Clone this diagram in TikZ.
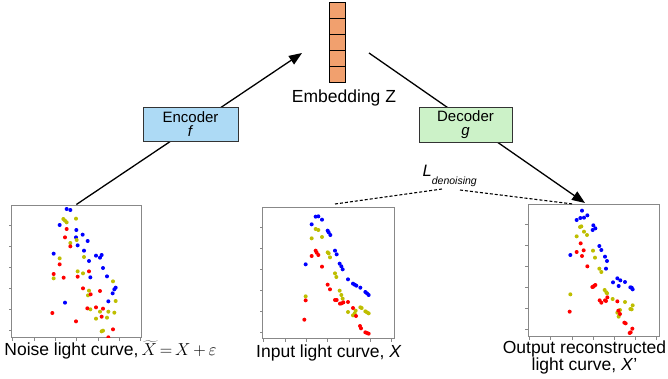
\documentclass[tikz,border=0pt]{standalone}
\usepackage{fontspec}
\setmainfont{Liberation Sans}
\usetikzlibrary{arrows.meta,calc}
\definecolor{embfill}{RGB}{241,160,110}
\definecolor{encfill}{RGB}{173,218,245}
\definecolor{decfill}{RGB}{204,242,200}
\definecolor{dblue}{RGB}{0,0,255}
\definecolor{dyellow}{RGB}{190,190,0}
\definecolor{dred}{RGB}{255,0,0}
\definecolor{framegray}{RGB}{136,136,136}
\newcommand\plotticks[1]{%
  \foreach \t in {21,42,63,84,105,126} \draw[tickline] ($(#1.north west)+(0,\t)$) -- ++(-2.5,0);
  \foreach \t in {1.5,23,44.5,65.5,87,108,129} \draw[tickline] ($(#1.south west)+(\t,0)$) -- ++(0,3);
}
\begin{document}
\begin{tikzpicture}[x=1pt,y=-1pt,
  plotbox/.style={draw=framegray, line width=1pt, inner sep=0pt},
  tickline/.style={draw=framegray, line width=0.8pt},
  bdot/.style={circle, fill=dblue, inner sep=0pt, minimum size=4pt},
  ydot/.style={circle, fill=dyellow, inner sep=0pt, minimum size=4pt},
  rdot/.style={circle, fill=dred, inner sep=0pt, minimum size=4pt},
  netbox/.style={draw=black!80, line width=0.8pt, align=center, font=\fontsize{15}{14}\selectfont, inner sep=0pt},
  cell/.style={draw=black, fill=embfill, line width=0.8pt, minimum width=16pt, minimum height=15.92pt, inner sep=0pt},
  arr/.style={line width=1.3pt, -{Triangle[length=13pt,width=10pt]}},
  lossline/.style={line width=1.1pt, dash pattern=on 3pt off 2pt},
  lbl/.style={font=\fontsize{17.5}{15.5}\selectfont, inner sep=0pt}]
\useasboundingbox (0,0) rectangle (668,378);

% plot frames
\node[plotbox, minimum width=129.3pt, minimum height=132pt] (plot1) at (76.35,271) {};
\node[plotbox, minimum width=131.3pt, minimum height=131pt] (plot2) at (328.35,272.5) {};
\node[plotbox, minimum width=131pt, minimum height=132pt] (plot3) at (593.5,270) {};
\plotticks{plot1}
\plotticks{plot2}
\plotticks{plot3}

% dots plot 1
\begin{scope}[shift={(0,190)}, x=0.33333pt, y=-0.33333pt]
\clip (plot1.south west) rectangle (plot1.north east);
\foreach \p in {(200,57),(211,60),(179,105),(229,120),(248,134),(228,142),(263,153),(233,166),(252,182),(161,191),(288,197),(305,195),(300,203),(267,213),(309,234),(321,259),(271,262),(347,293),(343,298),(338,310),(325,334),(195,338)} \node[bdot] at \p {};
\foreach \p in {(190,87),(195,92),(200,97),(228,86),(230,150),(211,159),(252,201),(179,205),(233,244),(249,250),(161,265),(339,274),(267,302),(264,316),(347,333),(271,358),(300,365),(325,365),(343,368),(288,386),(321,383),(305,424),(309,422)} \node[ydot] at \p {};
\foreach \p in {(200,117),(195,142),(211,169),(179,223),(161,252),(267,244),(233,260),(191,263),(249,295),(300,303),(272,313),(262,355),(288,352),(309,356),(157,369),(305,380),(228,394),(339,418),(325,442)} \node[rdot] at \p {};
\end{scope}

% dots plot 2
\begin{scope}[shift={(250,190)}, x=0.33333pt, y=-0.33333pt]
\clip (plot2.south west) rectangle (plot2.north east);
\foreach \p in {(197,80),(205,79),(216,89),(185,103),(233,122),(236,127),(241,135),(255,182),(260,193),(167,223),(269,221),(274,229),(278,238),(294,268),(309,281),(314,284),(319,287),(331,293),(346,306),(351,310),(356,315)} \node[bdot] at \p {};
\foreach \p in {(197,117),(205,120),(185,145),(216,141),(233,187),(236,190),(240,202),(255,250),(259,261),(269,302),(274,315),(278,326),(167,319),(294,366),(309,376),(314,370),(317,362),(331,352),(335,354),(346,364),(351,367),(356,370)} \node[ydot] at \p {};
\foreach \p in {(197,182),(200,188),(205,195),(185,198),(216,230),(167,331),(163,389),(233,284),(240,298),(255,330),(260,330),(270,341),(275,340),(280,337),(294,336),(309,354),(318,378),(330,408),(333,415),(346,427),(351,429),(356,431)} \node[rdot] at \p {};
\end{scope}

% dots plot 3
\begin{scope}[shift={(490,190)}, x=0.33333pt, y=-0.33333pt]
\clip (plot3.south west) rectangle (plot3.north east);
\foreach \p in {(276,62),(292,76),(271,84),(282,83),(260,90),(310,106),(316,115),(308,120),(328,168),(334,180),(241,195),(345,200),(351,213),(348,236),(382,265),(369,277),(391,271),(405,276),(386,288),(421,292),(428,298),(425,293)} \node[bdot] at \p {};
\foreach \p in {(274,109),(270,111),(282,125),(260,139),(291,135),(309,182),(315,203),(328,236),(334,246),(344,300),(349,307),(351,310),(241,313),(368,327),(405,336),(428,346),(421,357),(425,358),(382,368),(386,380),(390,360)} \node[ydot] at \p {};
\foreach \p in {(272,160),(260,186),(281,181),(276,198),(292,229),(310,290),(313,287),(316,285),(307,291),(352,322),(345,331),(329,331),(334,338),(348,333),(382,334),(239,365),(385,362),(390,372),(403,398),(407,400),(427,416),(422,427),(419,429)} \node[rdot] at \p {};
\end{scope}

% embedding
\node[cell] (c1) at (337,10.66) {};
\node[cell] (c2) at (337,26.58) {};
\node[cell] (c3) at (337,42.5) {};
\node[cell] (c4) at (337,58.42) {};
\node[cell] (c5) at (337,74.34) {};
\node[lbl, anchor=base] (embl) at (344,102) {Embedding Z};

% connector end points
\coordinate (embin) at (302,53);
\coordinate (embout) at (369,53);
\coordinate (p3top) at (585,203);
\coordinate (d1) at (335,204);
\coordinate (d2) at (442,189);
\coordinate (d3) at (460,190);
\coordinate (d4) at (573,204);

% connectors (drawn before the boxes, which cover them)
\draw[arr] (plot1.north) -- (embin);
\draw[arr] (embout) -- (p3top);
\draw[lossline] (d1) -- (d2);
\draw[lossline] (d3) -- (d4);

% encoder / decoder
\node[netbox, fill=encfill, minimum width=95pt, minimum height=34pt] (enc) at (190.5,124) {Encoder\\\textit{f}};
\node[netbox, fill=decfill, minimum width=93pt, minimum height=35pt] (dec) at (465.5,124.5) {Decoder\\\textit{g}};

% loss label
\node[inner sep=0pt, anchor=base west] (loss) at (422.5,176.7) {\fontsize{16.5}{16.5}\selectfont\textit{L}\raisebox{-8pt}{\fontsize{10.5}{10.5}\selectfont\textit{denoising}}};

% plot labels
\node[lbl, anchor=base west] (lbl1) at (4.2,355.7) {Noise light curve,\,$\widetilde{X}{\,=\,}X{\,+\,}\varepsilon$};
\node[lbl, anchor=base west] (lbl2) at (256,357) {Input light curve, \textit{X}};
\node[lbl, anchor=north, align=center] (lbl3) at (584.5,340.5) {Output reconstructed\\light curve, \textit{X}'};
\end{tikzpicture}
\end{document}
